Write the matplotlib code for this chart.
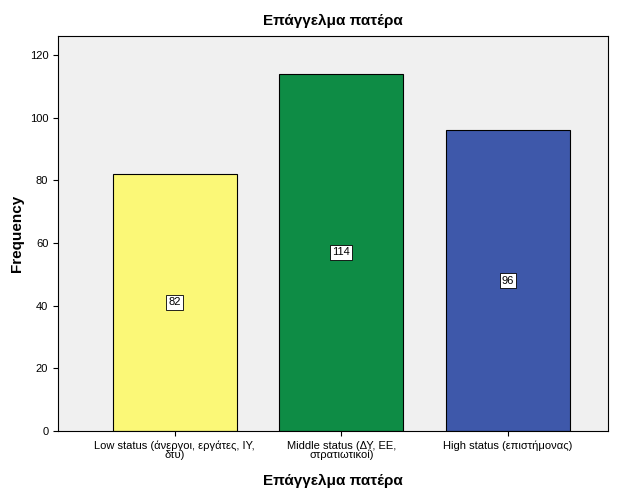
import matplotlib.pyplot as plt

categories = ['Low status (άνεργοι, εργάτες, ΙΥ,\nδτυ)',
              'Middle status (ΔΥ, ΕΕ,\nστρατιωτικοί)',
              'High status (επιστήμονας)']
counts = [82, 114, 96]
colors = ['#FBF877', '#0E8C45', '#3E58AA']

plt.rcParams['font.family'] = ['Liberation Sans', 'DejaVu Sans']

fig = plt.figure(figsize=(6.26, 5.01), dpi=100)
ax = fig.add_axes([58 / 626, 70 / 501, 550 / 626, 395 / 501])
ax.set_facecolor('#F0F0F0')

x = list(range(len(categories)))
ax.bar(x, counts, width=0.745, color=colors, edgecolor='black', linewidth=0.8, zorder=2)
for xi, c in zip(x, counts):
    ax.text(xi, c / 2, str(c), ha='center', va='center', fontsize=8,
            bbox=dict(boxstyle='square,pad=0.2', facecolor='white', edgecolor='black', linewidth=0.6),
            zorder=3)

ax.set_xlim(-0.70, 2.60)
ax.set_ylim(0, 126)
ax.set_yticks(range(0, 121, 20))
ax.set_xticks(x)
ax.set_xticklabels(categories, fontsize=8, linespacing=0.9)
ax.tick_params(axis='y', labelsize=8)
ax.set_ylabel('Frequency', fontsize=11, fontweight='bold')
ax.set_xlabel('Επάγγελμα πατέρα', fontsize=11, fontweight='bold', labelpad=10)
ax.set_title('Επάγγελμα πατέρα', fontsize=11, fontweight='bold', pad=8)
for s in ax.spines.values():
    s.set_linewidth(0.8)

fig.savefig('out.png', dpi=100, facecolor='white')
